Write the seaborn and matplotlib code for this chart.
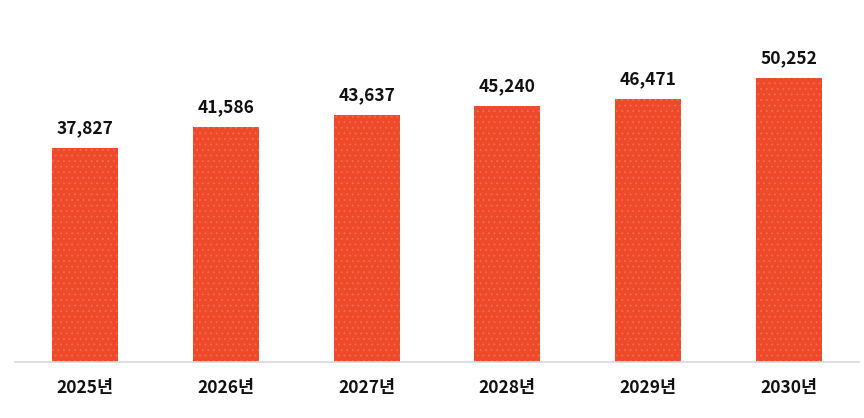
import matplotlib
matplotlib.use("Agg")
import matplotlib.pyplot as plt
import seaborn as sns
import pandas as pd

years = ["2025년", "2026년", "2027년", "2028년", "2029년", "2030년"]
values = [37827, 41586, 43637, 45240, 46471, 50252]

sns.set_theme(style="white")
plt.rcParams['font.family'] = ['Noto Sans CJK KR', 'DejaVu Sans']
plt.rcParams['hatch.linewidth'] = 0.6

df = pd.DataFrame({"year": years, "value": values})

fig = plt.figure(figsize=(8.64, 4.18), dpi=100)
ax = fig.add_axes([15/864, 56/418, 844/864, 339/418])
sns.barplot(data=df, x="year", y="value", color="#EE4A2A", saturation=1,
            width=0.47, ax=ax)
for p in ax.patches:
    p.set_hatch("...")
    p.set_edgecolor("#F26E52")
    p.set_linewidth(0)
ax.set_xlim(-0.5, 5.5)
ax.set_ylim(0, 60000)
ax.set_xlabel("")
ax.set_ylabel("")
ax.set_yticks([])
for s in ["top", "right", "left"]:
    ax.spines[s].set_visible(False)
ax.spines["bottom"].set_color("#D9D9D9")
ax.spines["bottom"].set_linewidth(1.2)
ax.tick_params(axis="x", length=0, pad=12, labelsize=12.5)
for lbl in ax.get_xticklabels():
    lbl.set_fontweight("bold")
    lbl.set_color("#111111")
for i, v in enumerate(values):
    ax.annotate(f"{v:,}", (i, v), xytext=(0, 8), textcoords="offset points",
                ha="center", va="bottom", fontsize=12.5, fontweight="bold",
                color="#111111")
fig.savefig("out.png", dpi=100)
